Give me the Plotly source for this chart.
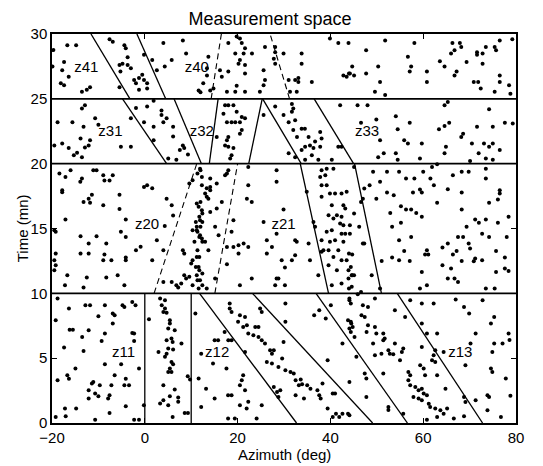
import plotly.graph_objects as go

# ---------------- data (azimuth deg, time mn) ----------------
band_25_30 = [
    (-19.7, 28.76), (-16.7, 29.14), (-14.8, 29.14), (-7.6, 29.6), (-6.9, 29.4), (-4.4, 29.14),
    (-4.1, 28.9), (-3.7, 28.2), (-19.9, 27.5), (-17.4, 27.85), (-17.8, 27.2), (-16.4, 26.7),
    (-18.1, 26.2), (-17.4, 26.05), (-13.55, 25.55), (-12.5, 25.7), (-11.8, 25.9), (-5.45, 27.6),
    (-4.8, 27.7), (-3.7, 27.6), (-5.25, 27.1), (-3.0, 27.35), (-2.3, 26.45), (-1.9, 26.2),
    (-1.25, 26.6), (-0.55, 26.85), (-0.17, 26.45), (0.5, 26.2), (-1.25, 25.7), (0.5, 25.8),
    (-5.45, 25.9), (-0.17, 28.4), (1.6, 28.0), (2.6, 27.2), (4.3, 27.5), (5.8, 28.0), (4.0, 29.3),
    (8.2, 29.5), (8.9, 28.5), (12.0, 25.5),
    (19.8, 29.8), (20.5, 29.65), (18.0, 29.3), (20.9, 29.3), (21.6, 28.9), (19.5, 28.5), (21.3, 28.5),
    (23.1, 28.5), (20.5, 28.0), (20.2, 27.7), (21.6, 27.6), (21.6, 26.95), (18.0, 27.1), (16.2, 27.2),
    (16.6, 26.7), (13.7, 28.25), (13.4, 27.35), (13.4, 26.8), (12.6, 26.2), (11.6, 25.65), (14.1, 25.65),
    (14.8, 25.8), (17.7, 25.55), (19.8, 26.0), (19.5, 25.55), (21.6, 25.55), (25.6, 27.2), (25.9, 29.0),
    (28.1, 29.0), (28.1, 28.6), (29.9, 28.5), (27.8, 28.1), (28.1, 27.7), (33.8, 28.5), (33.8, 27.7),
    (31.0, 26.45), (32.4, 26.45), (33.1, 26.6), (33.1, 26.3), (36.0, 26.3), (31.3, 25.55), (32.75, 25.55),
    (25.9, 26.45), (25.6, 26.05), (24.8, 25.55), (39.9, 29.65), (41.7, 29.3), (43.9, 29.3), (44.2, 26.95),
    (43.5, 26.7), (42.8, 26.8),
    (51.8, 29.5), (47.7, 28.75), (58.1, 29.3), (66.3, 29.3), (67.9, 29.3), (68.2, 29.0), (66.0, 28.5),
    (66.75, 28.75), (71.6, 28.6), (71.6, 28.4), (72.8, 28.5), (73.5, 29.0), (75.4, 29.0), (75.7, 28.75),
    (76.5, 29.5), (56.7, 28.25), (63.6, 27.9), (57.4, 27.5), (57.1, 27.1), (44.7, 27.5), (44.0, 26.95),
    (45.1, 26.8), (47.7, 26.95), (50.3, 27.5), (50.7, 26.3), (60.8, 27.1), (60.8, 26.3), (64.6, 27.5),
    (67.2, 27.1), (66.75, 26.8), (69.35, 27.85), (72.8, 27.7), (70.9, 26.3), (71.85, 26.3), (76.5, 26.8),
    (76.5, 26.3), (78.5, 26.05), (72.4, 25.8), (75.4, 25.55), (49.6, 25.55), (51.8, 25.3),
    (79.2, 29.6), (78.8, 25.4),
]

band_20_25 = [
    (-13.55, 24.25), (-12.9, 24.5), (-18.8, 23.2), (-15.6, 23.2), (-13.2, 22.85), (-10.7, 23.5),
    (-10.0, 23.0), (-19.5, 21.4), (-17.8, 21.55), (-13.85, 21.95), (-11.8, 21.8), (-12.1, 21.4),
    (-12.9, 21.25), (-16.4, 21.2), (-15.3, 20.65), (-14.6, 20.85), (-13.55, 20.5), (-5.15, 21.3),
    (-3.0, 21.3), (-1.9, 24.3), (-3.0, 23.5), (0.5, 24.4), (1.9, 24.85), (3.6, 24.1), (3.6, 23.75),
    (4.7, 23.5), (1.9, 22.85), (1.9, 21.8), (4.0, 23.2), (6.1, 22.85), (6.1, 22.1), (8.2, 21.4),
    (8.5, 21.2), (7.55, 21.05), (9.3, 20.7), (5.05, 20.4), (6.8, 20.3), (-0.17, 23.2),
    (17.3, 24.5), (18.0, 24.5), (19.1, 24.5), (16.95, 23.85), (19.8, 24.0), (20.9, 23.6), (21.6, 23.5),
    (17.7, 23.2), (18.7, 23.2), (19.5, 23.2), (20.5, 23.2), (20.9, 22.6), (20.5, 22.3), (15.5, 22.05),
    (18.0, 22.05), (17.7, 21.8), (17.3, 21.4), (18.0, 21.3), (19.1, 21.2), (18.7, 20.65), (18.4, 20.4),
    (25.6, 23.75), (28.1, 24.4), (29.9, 23.75), (31.7, 24.6), (32.0, 24.25), (31.7, 24.0), (32.4, 23.35),
    (31.0, 23.2), (32.0, 22.6), (33.8, 22.7), (34.5, 22.7), (32.8, 22.05), (35.3, 22.05), (37.8, 22.45),
    (38.1, 21.95), (36.7, 21.7), (35.6, 21.4), (36.35, 21.2), (37.8, 21.3), (34.55, 21.3), (33.8, 21.05),
    (31.0, 20.8), (32.4, 20.5), (36.0, 20.65), (34.55, 20.3), (37.4, 20.3), (40.3, 20.3), (41.7, 21.3),
    (42.4, 21.3), (42.1, 24.5),
    (45.85, 24.5), (48.0, 24.5), (64.6, 24.5), (65.3, 24.75), (74.2, 24.2), (46.6, 23.15), (49.9, 23.4),
    (54.1, 23.65), (57.1, 23.15), (54.5, 22.65), (63.4, 22.65), (64.6, 22.9), (65.6, 23.15), (71.6, 22.85),
    (75.0, 22.85), (77.6, 23.15), (68.6, 22.3), (68.2, 22.05), (55.9, 21.8), (56.7, 21.55), (59.7, 21.55),
    (50.7, 21.8), (70.5, 21.55), (73.1, 21.55), (75.0, 21.55), (74.2, 21.3), (76.5, 21.05), (64.9, 21.3),
    (51.5, 20.8), (50.3, 20.5), (54.1, 20.8), (54.5, 20.3), (59.3, 20.4), (64.6, 20.8), (71.95, 20.8),
    (73.5, 20.4), (75.0, 20.3), (70.1, 20.2), (79.3, 23.1),
]

band_10_20 = [
    (-18.4, 19.24), (-17.1, 18.98), (-16.0, 19.5), (-13.55, 18.86), (-13.9, 18.6), (-11.1, 19.5),
    (-10.4, 19.5), (-8.95, 19.1), (-6.9, 19.1), (-8.7, 18.7), (-7.6, 18.7), (-17.8, 17.95), (-17.8, 17.8),
    (-13.2, 17.05), (-12.1, 17.3), (-11.4, 17.6), (-11.8, 16.98), (-8.95, 16.8), (-5.45, 17.6),
    (-5.45, 16.5), (-0.17, 18.2), (0.5, 18.34), (1.6, 18.1), (4.7, 17.3), (5.8, 16.8), (6.1, 16.0),
    (-17.1, 15.7), (-4.1, 15.7), (-19.5, 14.87), (-19.2, 14.74), (-13.85, 14.4), (-10.4, 14.4),
    (-4.1, 14.35), (-5.15, 14.74), (4.3, 15.2), (2.6, 14.1), (-12.1, 13.84), (-8.3, 13.84), (-0.9, 13.6),
    (-1.9, 13.32), (-19.2, 13.07), (-13.85, 13.07), (-12.1, 13.07), (-8.7, 13.0), (-8.95, 12.55),
    (-7.2, 12.55), (-4.1, 12.76), (-4.1, 12.55), (-19.5, 12.55), (-19.2, 12.17), (-19.5, 11.78),
    (1.6, 12.55), (4.0, 13.32), (-16.7, 11.4), (-12.5, 11.22), (-8.3, 11.22), (-5.85, 11.4),
    (-17.2, 10.63), (-13.2, 10.45), (-4.4, 10.63), (4.0, 10.88), (5.8, 10.88), (6.8, 10.63), (7.2, 10.45),
    (7.85, 10.75), (8.5, 11.4), (8.9, 11.15), (9.6, 11.27), (10.3, 10.63), (11.35, 11.0), (12.4, 10.63),
    (8.2, 13.32), (8.5, 13.07), (10.3, 12.55), (10.0, 12.3), (11.0, 12.04), (11.75, 12.8), (11.35, 13.32),
    (10.7, 13.97), (11.75, 14.35), (12.4, 13.97), (10.3, 14.87), (11.35, 14.74), (12.0, 15.13),
    (11.0, 15.5), (12.4, 15.5), (11.75, 15.9), (12.4, 16.15), (12.0, 17.05), (9.6, 18.47), (10.3, 18.73),
    (11.35, 19.24), (12.0, 19.5), (11.75, 11.78), (12.4, 11.52),
    (11.9, 19.6), (12.3, 18.98), (12.3, 18.34), (13.35, 18.1), (14.1, 18.2), (13.0, 17.7), (13.35, 17.44),
    (13.7, 17.3), (14.1, 17.95), (11.2, 16.93), (11.6, 16.67), (12.3, 16.41), (14.1, 16.28), (11.9, 15.64),
    (11.2, 15.13), (11.2, 14.87), (11.9, 14.48), (12.3, 14.23), (13.0, 13.97), (13.7, 13.32), (11.2, 12.8),
    (11.6, 12.04), (11.2, 11.4), (11.9, 11.0), (13.35, 10.37), (15.5, 18.47), (15.5, 16.54), (16.6, 17.05),
    (15.15, 15.13), (15.9, 14.48), (14.1, 18.86), (17.7, 19.24), (17.3, 19.1), (18.0, 19.5), (22.3, 19.75),
    (22.3, 18.34), (22.0, 17.3), (23.05, 17.05), (19.1, 15.64), (18.7, 14.74), (17.7, 13.58), (19.1, 13.58),
    (20.2, 13.71), (21.3, 13.84), (22.3, 13.58), (20.2, 13.07), (17.7, 12.25), (25.6, 15.51), (26.3, 14.1),
    (27.4, 13.58), (26.3, 13.07), (28.4, 19.5), (28.4, 18.6), (29.9, 16.46), (28.4, 14.6), (29.5, 12.55),
    (30.2, 11.99), (32.4, 14.1), (32.75, 13.97), (32.4, 12.94), (31.7, 12.55), (35.3, 13.84), (35.6, 12.55),
    (28.4, 11.14), (28.8, 11.14), (28.1, 10.63), (30.2, 10.63), (23.05, 11.14), (20.5, 10.63), (15.15, 11.14),
    (11.6, 10.37), (37.4, 11.4), (34.9, 17.83), (36.7, 15.13), (38.5, 13.32),
    (37.8, 18.98), (38.9, 19.1), (38.1, 18.34), (39.2, 18.34), (39.9, 17.7), (41.0, 17.7), (42.4, 17.7),
    (43.5, 17.83), (38.1, 17.44), (40.3, 16.8), (42.8, 16.8), (43.2, 16.54), (39.6, 16.03), (40.65, 15.77),
    (41.4, 16.03), (42.4, 15.9), (42.1, 15.38), (42.8, 15.25), (44.2, 15.25), (39.2, 14.74), (40.3, 14.87),
    (42.4, 14.6), (43.2, 14.6), (44.2, 14.6), (38.1, 14.1), (39.9, 13.97), (41.0, 14.1), (42.8, 13.97),
    (38.1, 13.2), (39.6, 13.32), (40.65, 12.8), (41.7, 13.32), (42.4, 12.55), (43.5, 12.55), (39.6, 12.17),
    (41.4, 11.78), (43.9, 11.78), (44.6, 11.4), (43.9, 11.14), (42.4, 10.75), (44.6, 10.5), (40.3, 10.63),
    (38.1, 19.5), (39.2, 19.6), (40.65, 19.6), (36.35, 15.5),
    (45.1, 19.75), (47.3, 18.08), (48.45, 18.34), (46.6, 17.05), (47.0, 17.3), (45.1, 16.15), (46.2, 15.13),
    (47.0, 13.84), (47.3, 13.84), (44.0, 13.07), (44.7, 13.0), (44.4, 12.04), (44.7, 11.4), (45.1, 11.4),
    (48.9, 11.4), (44.0, 10.37), (46.6, 10.11), (50.7, 10.37), (51.05, 12.5), (49.2, 19.37), (52.2, 19.37),
    (54.8, 19.37), (50.7, 18.6), (56.3, 18.86), (58.1, 18.86), (60.0, 19.37), (61.55, 18.86), (61.9, 19.75),
    (63.0, 19.96), (66.4, 19.1), (68.3, 19.37), (69.8, 19.37), (73.5, 18.86), (73.5, 19.6), (52.2, 17.78),
    (53.65, 17.57), (49.9, 17.3), (57.8, 17.78), (59.3, 18.0), (59.7, 17.78), (62.3, 18.34), (65.3, 18.03),
    (68.3, 17.78), (76.5, 17.95), (76.5, 17.7), (76.1, 17.24), (74.2, 16.98), (63.0, 16.98), (55.2, 16.72),
    (56.3, 16.46), (57.4, 16.46), (58.5, 16.2), (59.7, 15.9), (52.9, 16.2), (55.2, 15.44), (53.3, 15.13),
    (68.3, 16.46), (71.2, 15.69), (72.0, 15.44), (73.5, 15.69), (76.1, 15.44), (78.4, 15.9), (69.35, 15.13),
    (72.7, 14.6), (74.2, 14.35), (78.0, 14.35), (67.5, 14.35), (68.6, 14.35), (57.4, 14.35), (54.8, 14.1),
    (69.8, 13.84), (70.1, 13.45), (65.3, 13.84), (64.15, 13.53), (67.2, 13.27), (66.4, 12.99), (60.8, 13.32),
    (60.4, 12.99), (61.1, 12.99), (55.9, 13.27), (53.3, 12.76), (54.8, 12.55), (57.1, 12.5), (68.3, 12.5),
    (71.2, 12.68), (70.9, 12.48), (72.7, 12.55), (75.7, 13.27), (77.6, 12.76), (64.15, 12.17), (66.0, 11.91),
    (75.7, 11.65), (77.6, 11.91), (78.4, 11.73), (59.7, 11.65), (65.3, 11.14), (66.75, 11.14), (67.5, 10.88),
    (60.8, 10.63), (59.3, 10.37), (73.5, 10.37), (75.4, 10.37),
]

band_0_10 = [
    (-18.8, 9.6), (-16.35, 8.83), (-12.8, 9.08), (-11.8, 9.08), (-8.6, 9.08), (-6.9, 8.44), (-6.5, 8.31),
    (-10.0, 8.23), (-4.8, 9.08), (-4.4, 8.95), (-2.7, 9.34), (-2.0, 9.08), (-19.2, 7.93), (-16.2, 7.2),
    (-15.5, 7.2), (-12.1, 7.15), (-6.9, 7.67), (-8.6, 6.9), (-9.3, 6.33), (-13.5, 6.64), (-2.7, 6.95),
    (-2.3, 6.9), (-2.3, 6.33), (-17.4, 5.82), (-13.2, 5.56), (-14.95, 4.2), (-8.6, 4.53), (-5.1, 4.53),
    (-1.25, 4.2), (-16.7, 3.68), (-16.35, 3.42), (-18.8, 3.3), (-11.4, 3.04), (-11.1, 3.17), (-9.7, 2.91),
    (-7.2, 2.91), (-4.4, 2.91), (-3.4, 2.91), (-4.1, 3.42), (-6.5, 3.68), (-12.1, 2.52), (-12.1, 1.88),
    (-10.7, 2.27), (-10.0, 2.06), (-7.6, 2.14), (-7.9, 1.88), (-4.1, 1.29), (-0.2, 1.37), (-17.2, 1.11),
    (-14.8, 1.11), (-7.6, 0.78), (-19.2, 0.47), (-17.05, 0.52), (-10.7, 0.26), (-2.3, 0.26), (-1.25, 0.26),
    (3.65, 9.08), (4.35, 8.83), (4.0, 8.57), (4.7, 8.5), (3.3, 9.6), (4.35, 9.47), (0.9, 8.0), (5.4, 7.93),
    (5.4, 7.67), (5.05, 7.28), (6.45, 7.15), (4.7, 6.38), (5.75, 6.51), (6.0, 6.25), (7.9, 6.13),
    (5.05, 5.74), (6.1, 5.66), (2.95, 5.48), (4.7, 5.35), (4.35, 5.1), (5.75, 4.71), (6.1, 4.53), (5.4, 4.2),
    (5.75, 3.94), (5.05, 3.94), (9.25, 3.6), (9.75, 3.35), (4.0, 2.91), (6.45, 2.58), (5.4, 2.06),
    (7.2, 1.96), (4.0, 1.75), (3.3, 1.5), (5.05, 1.37), (7.2, 1.63), (6.0, 0.47), (8.6, 0.78), (9.3, 0.78),
    (10.9, 8.44), (18.3, 9.21), (18.3, 8.83), (18.7, 8.57), (20.5, 8.31), (21.6, 8.18), (20.1, 7.8),
    (21.2, 7.41), (22.0, 7.54), (23.8, 7.41), (24.5, 7.41), (22.3, 6.9), (23.4, 6.77), (24.5, 6.64),
    (25.2, 6.38), (25.9, 6.13), (27.0, 5.61), (27.8, 5.61), (27.4, 5.35), (25.2, 8.57), (24.85, 8.83),
    (30.3, 9.21), (29.9, 6.25), (26.3, 4.71), (27.4, 4.58), (28.8, 4.32), (29.6, 4.97), (30.3, 4.07),
    (31.4, 3.94), (32.1, 3.81), (32.5, 3.3), (33.6, 3.35), (33.9, 2.99), (35.0, 2.91), (33.2, 2.91),
    (32.5, 2.14), (34.3, 1.88), (35.7, 2.65), (37.2, 2.52), (37.6, 2.14), (37.9, 1.88), (38.3, 3.04),
    (39.4, 1.11), (40.5, 0.47), (41.2, 0.72), (41.9, 0.47), (42.6, 0.72), (44.1, 0.6), (40.5, 2.27),
    (41.0, 2.27), (42.6, 6.13), (39.4, 4.84), (40.1, 9.08), (37.6, 8.7), (36.5, 8.31), (39.0, 8.05),
    (44.1, 9.47), (44.4, 9.21), (44.4, 7.8), (44.8, 7.41), (44.4, 7.02), (14.7, 4.58), (17.6, 4.2),
    (11.6, 3.43), (13.2, 2.65), (15.05, 1.88), (12.15, 1.24), (17.95, 2.14), (18.7, 2.14), (20.9, 3.3),
    (21.2, 3.68), (20.5, 2.91), (21.6, 2.52), (20.5, 1.37), (21.95, 1.11), (22.3, 1.63), (25.2, 1.37),
    (17.95, 0.34), (19.4, 0.34), (24.1, 0.34), (15.05, 6.38), (15.8, 6.38), (18.0, 6.38), (18.7, 6.38),
    (17.2, 7.02), (12.15, 5.35), (21.6, 5.48), (27.8, 2.78), (28.5, 2.4), (28.8, 2.0), (29.2, 2.52),
    (30.3, 7.8),
    (44.1, 9.6), (45.9, 9.93), (47.0, 9.08), (48.1, 8.95), (46.7, 8.31), (47.4, 8.18), (49.6, 9.6),
    (53.9, 8.7), (56.1, 8.18), (57.2, 9.47), (59.7, 9.21), (62.25, 9.21), (67.0, 9.52), (68.8, 8.95),
    (69.9, 8.44), (72.8, 9.47), (75.3, 8.18), (74.6, 7.67), (43.8, 7.93), (44.5, 7.67), (44.1, 7.28),
    (48.1, 7.54), (49.6, 7.41), (47.8, 7.02), (49.9, 6.9), (51.4, 6.9), (51.7, 6.51), (51.4, 6.38),
    (45.2, 6.64), (49.2, 6.13), (53.9, 6.13), (55.7, 5.74), (55.4, 5.48), (55.0, 4.84), (52.5, 5.61),
    (52.8, 5.35), (53.55, 5.3), (49.6, 5.22), (51.0, 5.35), (45.6, 5.1), (59.7, 7.67), (60.8, 6.9),
    (63.0, 6.9), (59.7, 5.87), (62.6, 5.61), (62.25, 5.22), (61.9, 4.84), (62.6, 4.71), (64.4, 5.48),
    (59.35, 4.45), (60.1, 4.2), (56.8, 3.94), (57.2, 3.68), (60.4, 3.68), (63.0, 3.68), (56.8, 3.3),
    (57.2, 2.91), (58.3, 2.78), (59.0, 2.52), (59.7, 2.65), (60.1, 2.27), (57.9, 2.01), (59.0, 1.88),
    (59.7, 1.75), (61.2, 1.49), (60.8, 2.14), (64.8, 2.65), (61.5, 1.24), (62.6, 1.11), (63.7, 0.98),
    (64.4, 0.72), (63.0, 0.47), (65.15, 1.11), (66.6, 0.34), (68.8, 0.52), (60.8, 0.26), (55.7, 0.72),
    (52.5, 1.24), (52.5, 1.0), (47.75, 2.01), (47.4, 3.81), (47.75, 3.43), (44.1, 3.17), (51.4, 3.81),
    (43.8, 0.72), (68.8, 2.01), (69.1, 1.62), (71.3, 1.75), (73.85, 2.14), (74.2, 2.01), (73.85, 0.98),
    (76.75, 0.47), (77.8, 3.43), (74.6, 4.2), (74.9, 3.94), (69.1, 4.45), (75.3, 6.13), (77.1, 6.13),
    (74.9, 5.48), (71.3, 6.9), (70.2, 6.13), (78.8, 2.1), (78.4, 6.9), (78.6, 6.4),
]

# gate boundaries (time) drawn across the full azimuth range
boundary_times = [10, 20, 25]
az_range = [-20, 80]
time_range = [0, 30]

# gate edges: ((az_start, t_start), (az_end, t_end))
solid_edges = [
    ((0, 0), (0, 10)), ((10, 0), (10, 10)),
    ((11.8, 10), (32.7, 0)), ((23.2, 10), (49.1, 0)), ((36.9, 10), (56.6, 0)), ((54.4, 10), (72.8, 0)),
    ((39.6, 10), (33.5, 20)), ((51.0, 10), (45.2, 20)),
    ((-4.8, 25), (4.7, 20)), ((6.3, 25), (12.2, 20)), ((15.8, 25), (13.9, 20)), ((25.3, 25), (22.4, 20)),
    ((25.4, 25), (33.7, 20)), ((36.5, 25), (45.0, 20)),
    ((-11.6, 30), (-3.2, 25)), ((-1.7, 30), (4.5, 25)),
]
dashed_edges = [
    ((2.0, 10), (11.2, 20)), ((15.1, 10), (20.0, 20)),
    ((14.3, 25), (16.5, 30)), ((31.2, 25), (27.0, 30)),
]

gate_labels = ["z41", "z40", "z31", "z32", "z33", "z20", "z21", "z11", "z12", "z13"]
label_az = [-12.6, 11.2, -7.4, 12.3, 47.9, 0.5, 29.9, -4.6, 15.6, 68.0]
label_time = [27.35, 27.35, 22.45, 22.45, 22.45, 15.25, 15.25, 5.35, 5.35, 5.35]

x_ticks = [-20, 0, 20, 40, 60, 80]
y_ticks = [0, 5, 10, 15, 20, 25, 30]

FONT = "Liberation Sans, Arial, Helvetica, sans-serif"


def seg_xy(edges):
    xs, ys = [], []
    for (a0, t0), (a1, t1) in edges:
        xs += [a0, a1, None]
        ys += [t0, t1, None]
    return xs, ys


fig = go.Figure()

# measurements
all_pts = band_25_30 + band_20_25 + band_10_20 + band_0_10
fig.add_trace(go.Scatter(
    x=[p[0] for p in all_pts], y=[p[1] for p in all_pts], mode="markers",
    marker=dict(size=4, color="black", line=dict(width=0)), hoverinfo="skip", showlegend=False))

# horizontal gate boundaries
hx, hy = [], []
for tb in boundary_times:
    hx += [az_range[0], az_range[1], None]
    hy += [tb, tb, None]
fig.add_trace(go.Scatter(x=hx, y=hy, mode="lines", line=dict(color="black", width=1.8),
                         hoverinfo="skip", showlegend=False))

sx, sy = seg_xy(solid_edges)
fig.add_trace(go.Scatter(x=sx, y=sy, mode="lines", line=dict(color="black", width=1.3),
                         hoverinfo="skip", showlegend=False))
dx, dy = seg_xy(dashed_edges)
fig.add_trace(go.Scatter(x=dx, y=dy, mode="lines", line=dict(color="black", width=1.1, dash="6px,4px"),
                         hoverinfo="skip", showlegend=False))

fig.add_trace(go.Scatter(x=label_az, y=label_time, mode="text", text=gate_labels,
                         textfont=dict(family=FONT, size=15, color="black"),
                         textposition="middle center", hoverinfo="skip", showlegend=False))

axis_common = dict(showline=True, linecolor="black", linewidth=1.5, mirror="ticks",
                   ticks="inside", ticklen=5, tickwidth=1, tickcolor="black",
                   showgrid=False, zeroline=False,
                   tickfont=dict(family=FONT, size=15, color="black"))

# the page body adds an 8 px offset; margins compensate so the plot box lands where the reference has it
fig.update_layout(
    width=543, height=466,
    margin=dict(l=44, r=35, t=26, b=51),
    paper_bgcolor="white", plot_bgcolor="white",
    title=dict(text="Measurement space", x=0.4825, xanchor="center", y=0.977, yanchor="middle",
               font=dict(family=FONT, size=18, color="black")),
    xaxis=dict(range=az_range, tickvals=x_ticks, **axis_common),
    yaxis=dict(range=time_range, tickvals=y_ticks, **axis_common),
    annotations=[
        dict(text="Azimuth (deg)", xref="paper", yref="paper", x=0.5, y=-0.08,
             xanchor="center", yanchor="middle", showarrow=False,
             font=dict(family=FONT, size=15, color="black")),
        dict(text="Time (mn)", xref="paper", yref="paper", x=-0.063, y=0.5, textangle=-90,
             xanchor="center", yanchor="middle", showarrow=False,
             font=dict(family=FONT, size=15, color="black")),
    ],
)

fig.write_html("out.html")
